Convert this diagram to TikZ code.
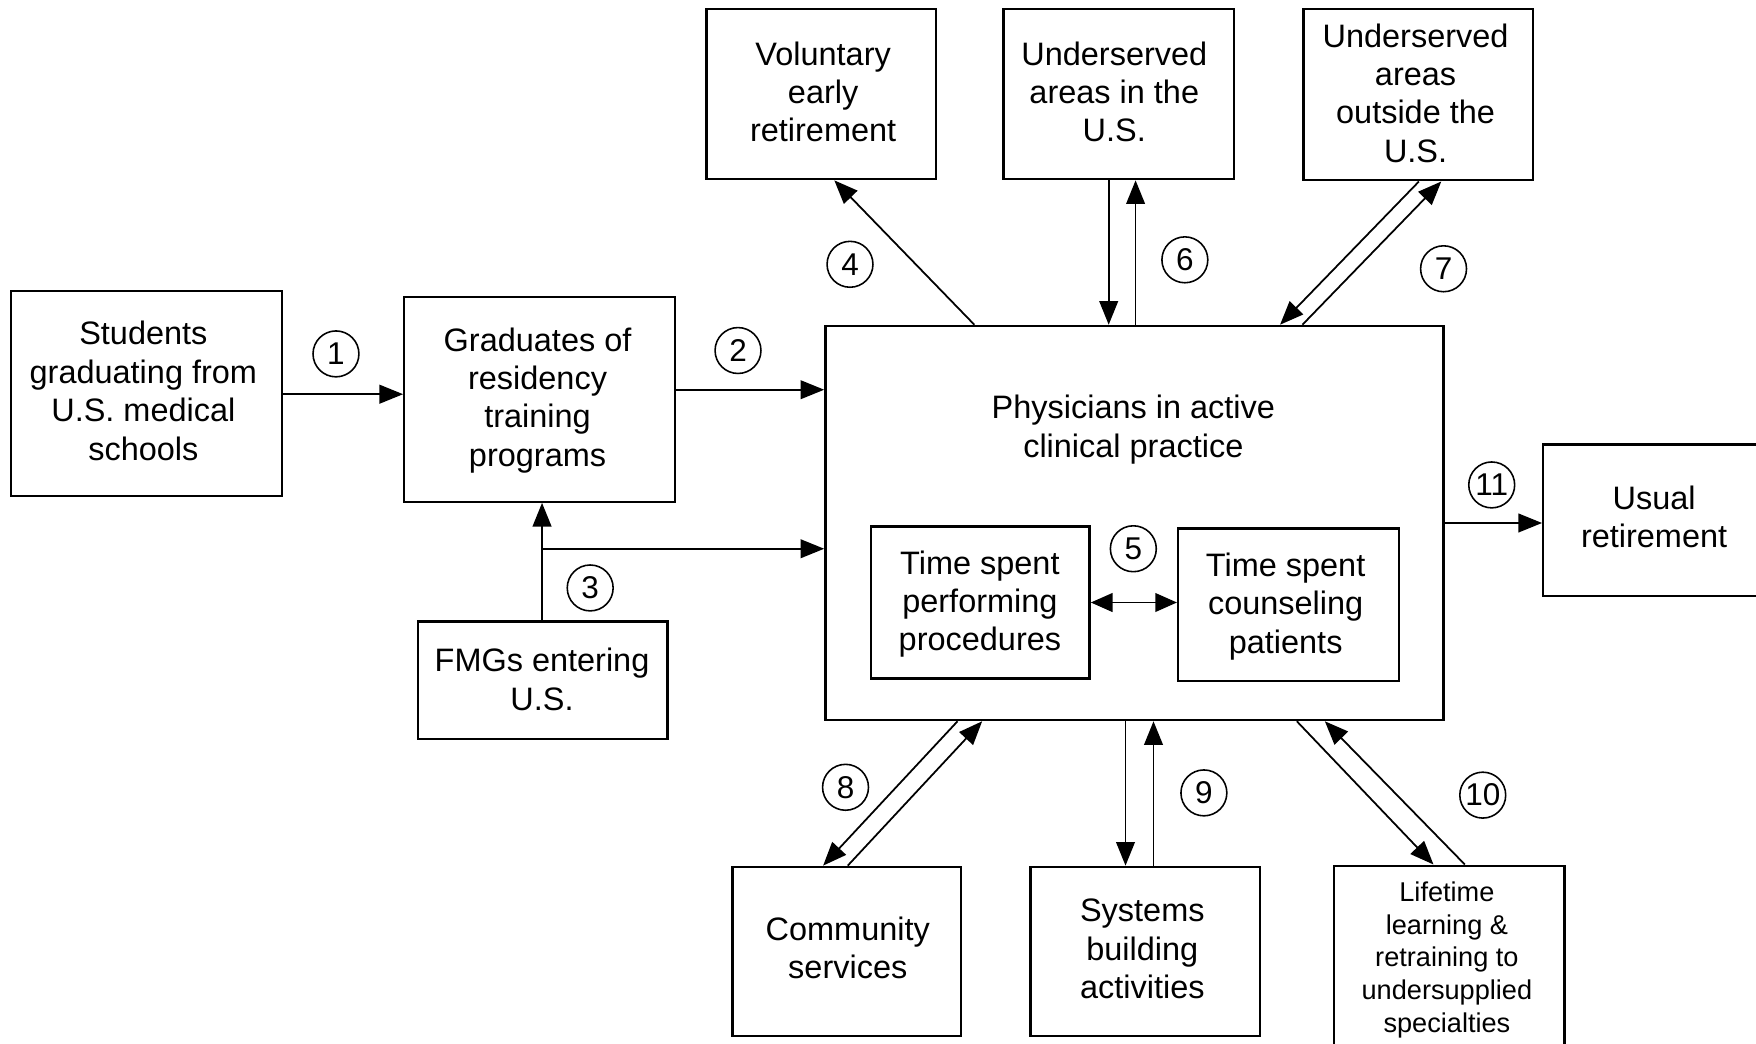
\documentclass[tikz,border=0pt]{standalone}
\usepackage{fontspec}
\setmainfont{Liberation Sans}
\usetikzlibrary{arrows.meta,fit,calc}
\begin{document}
\begin{tikzpicture}[x=0.02cm,y=-0.02cm,
 box/.style={draw, line width=1.2pt, inner sep=0pt},
 txt/.style={align=center, inner sep=0pt, font=\fontsize{16.5}{19.5}\selectfont},
 smalltxt/.style={align=center, inner sep=0pt, font=\fontsize{13.8}{16.6}\selectfont},
 num/.style={draw, circle, line width=0.8pt, minimum size=0.82cm, inner sep=0pt, font=\fontsize{16}{18}\selectfont},
 arr/.style={line width=0.9pt, -{Triangle[length=12pt,width=9.5pt]}},
 darr/.style={line width=0.9pt, {Triangle[length=11pt,width=9.5pt]}-{Triangle[length=11pt,width=9.5pt]}},
]
\fill[white] (0,0) rectangle (1568,932);
\useasboundingbox (0,0) rectangle (1568,932);

% boxes
\node[box, fit={(10,260)(252,443)}] (stud) {};
\node[box, fit={(361,265)(603,448)}] (grad) {};
\node[box, fit={(373,555)(596,660)}] (fmg) {};
\node[box, fit={(737,291)(1289,643)}] (phys) {};
\node[box, fit={(778,470)(973,606)}] (proc) {};
\node[box, fit={(1052,472)(1249,608)}] (couns) {};
\node[box, fit={(1378,397)(1578,532)}] (usual) {};
\node[box, fit={(631,8)(836,160)}] (vol) {};
\node[box, fit={(896,8)(1102,160)}] (undin) {};
\node[box, fit={(1164,8)(1369,161)}] (undout) {};
\node[box, fit={(654,774)(858,925)}] (comm) {};
\node[box, fit={(920,774)(1125,925)}] (sys) {};
\node[box, fit={(1191,773)(1397,936)}] (life) {};

% texts
\node[txt] (studT) at (128,349) {Students\\graduating from\\U.S. medical\\schools};
\node[txt] (gradT) at (480,357.5) {Graduates of\\residency\\training\\programs};
\node[txt] (fmgT) at (484,606.5) {FMGs entering\\U.S.};
\node[txt] (physT) at (1012,383.5) {Physicians in active\\clinical practice};
\node[txt] (procT) at (875,539.5) {Time spent\\performing\\procedures};
\node[txt] (counsT) at (1148,541.5) {Time spent\\counseling\\patients};
\node[txt] (usualT) at (1477,461.5) {Usual\\retirement};
\node[txt] (volT) at (735,82) {Voluntary\\early\\retirement};
\node[txt] (undinT) at (995,82) {Underserved\\areas in the\\U.S.};
\node[txt] (undoutT) at (1264,83) {Underserved\\areas\\outside the\\U.S.};
\node[txt] (commT) at (757,846.5) {Community\\services};
\node[txt] (sysT) at (1020,847.5) {Systems\\building\\activities};
\node[smalltxt] (lifeT) at (1292,857) {Lifetime\\learning \&\\retraining to\\undersupplied\\specialties};

% connectors
\draw[arr] (stud.east |- 0,352) -- (grad.west |- 0,352);
\draw[arr] (grad.east |- 0,348) -- (phys.west |- 0,348);
\draw[arr] (fmg.north -| 484,0) -- (grad.south -| 484,0);
\coordinate (j3) at (484,490);
\draw[arr] (j3) -- (phys.west |- j3);
\draw[arr] (phys.north -| 870,0) -- (vol.south -| 745,0);
\draw[arr] (undin.south -| 990,0) -- (phys.north -| 990,0);
\draw[arr] (phys.north -| 1014,0) -- (undin.south -| 1014,0);
\draw[arr] (undout.south -| 1267,0) -- (phys.north -| 1143,0);
\draw[arr] (phys.north -| 1163,0) -- (undout.south -| 1287,0);
\draw[arr] (phys.south -| 855,0) -- (comm.north -| 735,0);
\draw[arr] (comm.north -| 757,0) -- (phys.south -| 877,0);
\draw[arr] (phys.south -| 1005,0) -- (sys.north -| 1005,0);
\draw[arr] (sys.north -| 1030,0) -- (phys.south -| 1030,0);
\draw[arr] (phys.south -| 1158,0) -- (life.north -| 1280,0);
\draw[arr] (life.north -| 1308,0) -- (phys.south -| 1183,0);
\draw[arr] (phys.east |- 0,467) -- (usual.west |- 0,467);
\draw[darr] (proc.east |- 0,538) -- (couns.west |- 0,538);

% numbers
\node[num] (c1) at (300,316) {1};
\node[num] (c2) at (659,313) {2};
\node[num] (c3) at (527,525) {3};
\node[num] (c4) at (759,236) {4};
\node[num] (c5) at (1012,490) {5};
\node[num] (c6) at (1058,232) {6};
\node[num] (c7) at (1289,240) {7};
\node[num] (c8) at (755,703) {8};
\node[num] (c9) at (1075,708) {9};
\node[num] (c10) at (1324,710) {10};
\node[num] (c11) at (1332,433) {11};
\end{tikzpicture}
\end{document}
